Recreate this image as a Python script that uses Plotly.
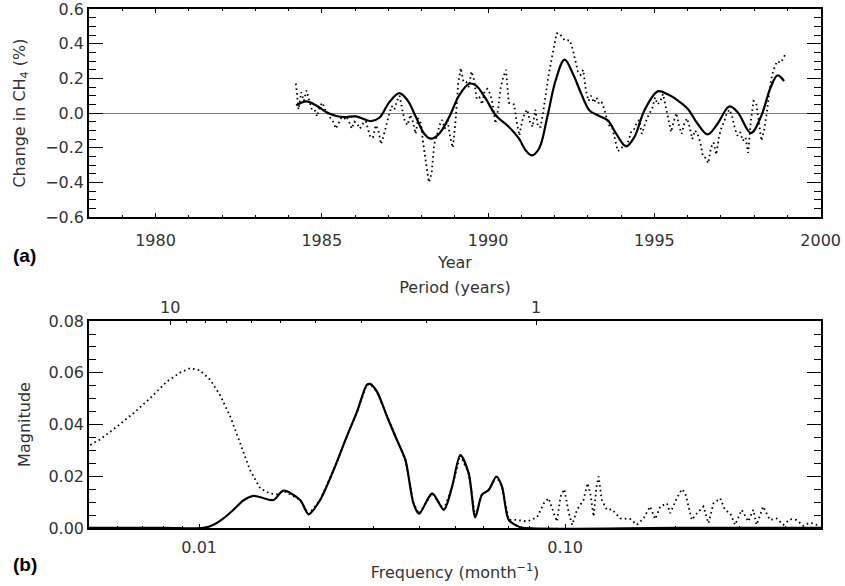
import plotly.graph_objects as go

# ---------------- Panel (a): change in CH4 (%) vs year ----------------
years_monthly = [
    1984.22, 1984.30, 1984.38, 1984.46, 1984.54, 1984.62, 1984.70, 1984.78, 1984.86, 1984.94,
    1985.02, 1985.10, 1985.18, 1985.26, 1985.34, 1985.42, 1985.50, 1985.58, 1985.66, 1985.74,
    1985.82, 1985.90, 1985.98, 1986.06, 1986.14, 1986.22, 1986.30, 1986.38, 1986.46, 1986.54,
    1986.62, 1986.70, 1986.78, 1986.86, 1986.94, 1987.02, 1987.10, 1987.18, 1987.26, 1987.34,
    1987.42, 1987.50, 1987.58, 1987.66, 1987.74, 1987.82, 1987.90, 1987.98, 1988.06, 1988.14,
    1988.22, 1988.30, 1988.38, 1988.46, 1988.54, 1988.62, 1988.70, 1988.78, 1988.86, 1988.94,
    1989.02, 1989.10, 1989.18, 1989.26, 1989.34, 1989.42, 1989.50, 1989.58, 1989.66, 1989.74,
    1989.82, 1989.90, 1989.98, 1990.06, 1990.14, 1990.22, 1990.30, 1990.38, 1990.46, 1990.54,
    1990.62, 1990.70, 1990.78, 1990.86, 1990.94, 1991.02, 1991.10, 1991.18, 1991.26, 1991.34,
    1991.42, 1991.50, 1991.58, 1991.66, 1991.74, 1991.82, 1991.90, 1991.98, 1992.06, 1992.14,
    1992.22, 1992.30, 1992.38, 1992.46, 1992.54, 1992.62, 1992.70, 1992.78, 1992.86, 1992.94,
    1993.02, 1993.10, 1993.18, 1993.26, 1993.34, 1993.42, 1993.50, 1993.58, 1993.66, 1993.74,
    1993.82, 1993.90, 1993.98, 1994.06, 1994.14, 1994.22, 1994.30, 1994.38, 1994.46, 1994.54,
    1994.62, 1994.70, 1994.78, 1994.86, 1994.94, 1995.02, 1995.10, 1995.18, 1995.26, 1995.34,
    1995.42, 1995.50, 1995.58, 1995.66, 1995.74, 1995.82, 1995.90, 1995.98, 1996.06, 1996.14,
    1996.22, 1996.30, 1996.38, 1996.46, 1996.54, 1996.62, 1996.70, 1996.78, 1996.86, 1996.94,
    1997.02, 1997.10, 1997.18, 1997.26, 1997.34, 1997.42, 1997.50, 1997.58, 1997.66, 1997.74,
    1997.82, 1997.90, 1997.98, 1998.06, 1998.14, 1998.22, 1998.30, 1998.38, 1998.46, 1998.54,
    1998.62, 1998.70, 1998.78, 1998.86, 1998.94,
]
change_monthly = [
    0.17, 0.02, 0.12, 0.07, 0.13, 0.08, 0.02, 0.02, -0.02, 0.04,
    0.06, 0.02, 0.00, -0.03, -0.05, -0.09, -0.06, -0.03, -0.04, -0.02,
    -0.05, -0.09, -0.05, -0.06, -0.09, -0.07, -0.03, -0.09, -0.14, -0.14,
    -0.07, -0.10, -0.18, -0.13, -0.06, -0.01, 0.04, 0.02, 0.07, 0.10,
    0.02, -0.05, -0.07, -0.01, -0.05, -0.12, -0.03, -0.06, -0.19, -0.31,
    -0.40, -0.35, -0.18, -0.13, -0.07, -0.04, -0.09, -0.04, -0.14, -0.20,
    -0.05, 0.17, 0.26, 0.18, 0.18, 0.15, 0.24, 0.19, 0.08, 0.09,
    0.05, 0.13, 0.14, 0.11, 0.05, -0.06, 0.02, 0.15, 0.21, 0.25,
    0.06, 0.05, 0.05, -0.05, -0.13, -0.05, 0.00, 0.02, -0.05, -0.08,
    0.02, -0.08, -0.08, 0.01, 0.12, 0.22, 0.30, 0.38, 0.46, 0.46,
    0.44, 0.42, 0.42, 0.42, 0.37, 0.30, 0.24, 0.22, 0.25, 0.13,
    0.07, 0.10, 0.06, 0.09, 0.05, 0.06, 0.02, -0.04, -0.08, -0.09,
    -0.15, -0.22, -0.21, -0.19, -0.19, -0.16, -0.11, -0.10, -0.06, -0.04,
    -0.12, -0.07, -0.03, 0.00, 0.03, 0.09, 0.05, 0.07, 0.11, 0.04,
    -0.04, -0.11, -0.05, 0.00, -0.07, -0.12, -0.06, -0.03, -0.08, -0.15,
    -0.10, -0.12, -0.17, -0.25, -0.26, -0.29, -0.20, -0.17, -0.24, -0.14,
    -0.08, -0.05, 0.00, 0.02, -0.02, -0.09, -0.13, -0.11, -0.16, -0.14,
    -0.23, -0.05, 0.07, 0.06, -0.05, -0.16, -0.10, 0.00, 0.13, 0.22,
    0.27, 0.30, 0.29, 0.31, 0.34,
]

years_smooth = [
    1984.23, 1984.53, 1984.83, 1985.13, 1985.43, 1985.73, 1986.03, 1986.48, 1986.73, 1987.03,
    1987.33, 1987.58, 1987.83, 1988.08, 1988.28, 1988.53, 1988.83, 1989.13, 1989.43, 1989.63,
    1989.93, 1990.23, 1990.63, 1990.93, 1991.13, 1991.31, 1991.53, 1991.78, 1992.03, 1992.30,
    1992.55, 1992.80, 1993.05, 1993.30, 1993.60, 1993.85, 1994.15, 1994.40, 1994.70, 1995.10,
    1995.40, 1995.70, 1996.00, 1996.30, 1996.60, 1996.90, 1997.25, 1997.50, 1997.90, 1998.20,
    1998.50, 1998.70, 1998.90,
]
change_smooth = [
    0.044, 0.067, 0.044, 0.006, -0.017, -0.023, -0.019, -0.046, -0.027, 0.063,
    0.115, 0.073, -0.023, -0.119, -0.148, -0.119, -0.023, 0.102, 0.169, 0.160,
    0.083, -0.013, -0.081, -0.148, -0.215, -0.244, -0.206, -0.023, 0.188, 0.308,
    0.227, 0.112, 0.015, -0.013, -0.042, -0.119, -0.192, -0.138, 0.015, 0.125,
    0.108, 0.073, 0.025, -0.062, -0.123, -0.062, 0.038, 0.006, -0.115, -0.023,
    0.150, 0.217, 0.185,
]

year_ticks = [1980, 1985, 1990, 1995, 2000]

# ---------------- Panel (b): spectrum magnitude vs frequency ----------------
freq_solid = [
    0.0050, 0.0080, 0.01028, 0.01094, 0.01165, 0.0124, 0.0132, 0.01407, 0.0150, 0.01596,
    0.0170, 0.01888, 0.0199, 0.0214, 0.0233, 0.0253, 0.0270, 0.0287, 0.0293, 0.0306,
    0.0326, 0.0347, 0.0366, 0.0385, 0.0399, 0.0433, 0.0466, 0.0491, 0.0517, 0.0545,
    0.0568, 0.0592, 0.0618, 0.0649, 0.0672, 0.0701, 0.0739, 0.0770, 0.2000, 0.5000,
]
mag_solid = [
    0.0000, 0.0000, 0.0000, 0.0012, 0.0037, 0.0070, 0.0106, 0.0124, 0.0115, 0.0108,
    0.0144, 0.0108, 0.0053, 0.0108, 0.0224, 0.0353, 0.0450, 0.0553, 0.0557, 0.0527,
    0.0431, 0.0340, 0.0263, 0.0095, 0.0055, 0.0134, 0.0070, 0.0160, 0.0282, 0.0211,
    0.0041, 0.0128, 0.0147, 0.0199, 0.0160, 0.0031, 0.0008, 0.0000, 0.0000, 0.0000,
]

freq_dot_low = [
    0.00504, 0.00537, 0.00596, 0.00662, 0.00735, 0.00816, 0.00888, 0.00945, 0.01006, 0.01072,
    0.01140, 0.01216, 0.01294, 0.01377, 0.01468, 0.01560, 0.01630,
]
mag_dot_low = [
    0.0321, 0.0343, 0.0392, 0.0444, 0.0502, 0.0566, 0.0601, 0.0618, 0.0609, 0.0573,
    0.0514, 0.0431, 0.0328, 0.0224, 0.0153, 0.0133, 0.0130,
]
freq_dot_high = [
    0.0739, 0.0787, 0.0838, 0.0874, 0.0901, 0.0931, 0.0950, 0.0971, 0.0995, 0.1023,
    0.1045, 0.1077, 0.1122, 0.1151, 0.1171, 0.1196, 0.1216, 0.1234, 0.1259, 0.1300,
    0.1342, 0.1414, 0.1507, 0.1570, 0.1637, 0.1706, 0.1762, 0.1819, 0.1897, 0.1936,
    0.2018, 0.2084, 0.2129, 0.2173, 0.2219, 0.2291, 0.2387, 0.2464, 0.2542, 0.2651,
    0.2733, 0.2823, 0.2913, 0.3036, 0.3165, 0.3266, 0.3334, 0.3475, 0.3624, 0.3781,
    0.3944, 0.4113, 0.4289, 0.4472, 0.4664, 0.4863, 0.4966,
]
mag_dot_high = [
    0.0031, 0.0025, 0.0041, 0.0095, 0.0115, 0.0057, 0.0025, 0.0121, 0.0150, 0.0057,
    0.0012, 0.0070, 0.0108, 0.0173, 0.0134, 0.0044, 0.0153, 0.0199, 0.0108, 0.0070,
    0.0072, 0.0037, 0.0034, 0.0012, 0.0037, 0.0083, 0.0034, 0.0083, 0.0095, 0.0057,
    0.0115, 0.0150, 0.0134, 0.0083, 0.0031, 0.0057, 0.0083, 0.0018, 0.0095, 0.0115,
    0.0070, 0.0057, 0.0012, 0.0070, 0.0025, 0.0070, 0.0012, 0.0083, 0.0031, 0.0037,
    0.0012, 0.0034, 0.0031, 0.0008, 0.0021, 0.0012, 0.0018,
]

freq_ticks = [0.01, 0.1]
freq_tick_text = ["0.01", "0.10"]
freq_minor = [0.006, 0.007, 0.008, 0.009, 0.02, 0.03, 0.04, 0.05, 0.06, 0.07, 0.08, 0.09,
              0.2, 0.3, 0.4]
period_ticks = [10, 1]
period_minor = [9, 8, 7, 6, 5, 4, 3, 2]

# where the unfiltered (dotted) spectrum coincides with the filtered one
overlap = [(f, m) for f, m in zip(freq_solid, mag_solid) if 0.0165 < f < 0.0735]
freq_dot = freq_dot_low + [f for f, _ in overlap] + freq_dot_high
mag_dot = mag_dot_low + [m for _, m in overlap] + mag_dot_high

# ---------------- styling ----------------
TXT = dict(family="DejaVu Sans", size=16, color="#333333")
BLACK = "black"
DOT = "1.6px,3.2px"

fig = go.Figure()
fig.add_trace(go.Scatter(x=years_monthly, y=change_monthly, mode="lines", xaxis="x", yaxis="y",
                         line=dict(color=BLACK, width=1.8, dash=DOT), hoverinfo="skip"))
fig.add_trace(go.Scatter(x=years_smooth, y=change_smooth, mode="lines", xaxis="x", yaxis="y",
                         line=dict(color=BLACK, width=2.2, shape="spline", smoothing=1.0),
                         hoverinfo="skip"))
fig.add_trace(go.Scatter(x=freq_dot, y=mag_dot, mode="lines", xaxis="x2", yaxis="y2",
                         line=dict(color=BLACK, width=1.8, dash=DOT), hoverinfo="skip"))
fig.add_trace(go.Scatter(x=freq_solid, y=mag_solid, mode="lines", xaxis="x2", yaxis="y2",
                         line=dict(color=BLACK, width=2.2, shape="spline", smoothing=0.8),
                         hoverinfo="skip"))
# invisible trace so the period axis is rendered
fig.add_trace(go.Scatter(x=[1 / (12 * p) for p in period_ticks], y=[0, 0], mode="lines",
                         xaxis="x3", yaxis="y2", line=dict(width=0), opacity=0,
                         hoverinfo="skip"))

common_axis = dict(showline=True, linecolor=BLACK, linewidth=1.5, ticks="inside",
                   tickcolor=BLACK, tickwidth=1.2, showgrid=False, zeroline=False,
                   tickfont=TXT, automargin=False, ticklabeloverflow="allow")

fig.update_layout(
    width=845, height=586,
    margin=dict(l=89, r=24, t=9, b=58),
    paper_bgcolor="white", plot_bgcolor="white",
    showlegend=False,
    font=TXT,
    xaxis=dict(common_axis, domain=[0, 1], anchor="y", range=[1978, 2000.01],
               tickmode="array", tickvals=year_ticks, ticklen=4, mirror="ticks",
               ticklabelstandoff=8,
               minor=dict(dtick=1, tick0=1978, ticklen=2, ticks="inside", tickcolor=BLACK,
                          tickwidth=1),
               title=dict(text="Year", font=TXT, standoff=8)),
    yaxis=dict(common_axis, domain=[0.599, 1], anchor="x", range=[-0.6005, 0.6005],
               tick0=0, dtick=0.2, tickformat=".1f", ticklen=14, mirror="ticks",
               zeroline=True, zerolinecolor="#808080", zerolinewidth=1,
               minor=dict(dtick=0.05, tick0=0, ticklen=7, ticks="inside", tickcolor=BLACK,
                          tickwidth=1),
               title=dict(text="Change in CH<sub>4</sub> (%)", font=TXT, standoff=16)),
    xaxis2=dict(common_axis, type="log", domain=[0, 1], anchor="y2",
                range=[-2.30103, -0.30103], tickmode="array", tickvals=freq_ticks,
                ticktext=freq_tick_text, ticklen=4, ticklabelstandoff=4,
                minor=dict(tickmode="array", tickvals=freq_minor, ticklen=2, ticks="inside",
                           tickcolor=BLACK, tickwidth=1),
                title=dict(text="Frequency (month<sup>\u22121</sup>)", font=TXT, standoff=11)),
    xaxis3=dict(common_axis, type="log", overlaying="x2", side="top", anchor="y2",
                range=[-2.30103, -0.30103], tickmode="array",
                tickvals=[1 / (12 * p) for p in period_ticks],
                ticktext=[str(p) for p in period_ticks], ticklen=4,
                minor=dict(tickmode="array", tickvals=[1 / (12 * p) for p in period_minor],
                           ticklen=2, ticks="inside", tickcolor=BLACK, tickwidth=1),
                title=dict(text="Period (years)", font=TXT, standoff=0)),
    yaxis2=dict(common_axis, domain=[0, 0.3988], anchor="x2", range=[-0.00002, 0.08002],
                tick0=0, dtick=0.02, tickformat=".2f", ticklen=14, mirror="ticks",
                minor=dict(dtick=0.005, tick0=0, ticklen=7, ticks="inside", tickcolor=BLACK,
                           tickwidth=1),
                title=dict(text="Magnitude", font=TXT, standoff=14)),
    annotations=[
        dict(text="<b>(a)</b>", xref="paper", yref="paper", x=-0.106, y=0.526,
             xanchor="left", yanchor="middle", showarrow=False,
             font=dict(family="Liberation Sans", size=19, color="black")),
        dict(text="<b>(b)</b>", xref="paper", yref="paper", x=-0.106, y=-0.071,
             xanchor="left", yanchor="middle", showarrow=False,
             font=dict(family="Liberation Sans", size=19, color="black")),
    ],
)

fig.write_html("out.html")
